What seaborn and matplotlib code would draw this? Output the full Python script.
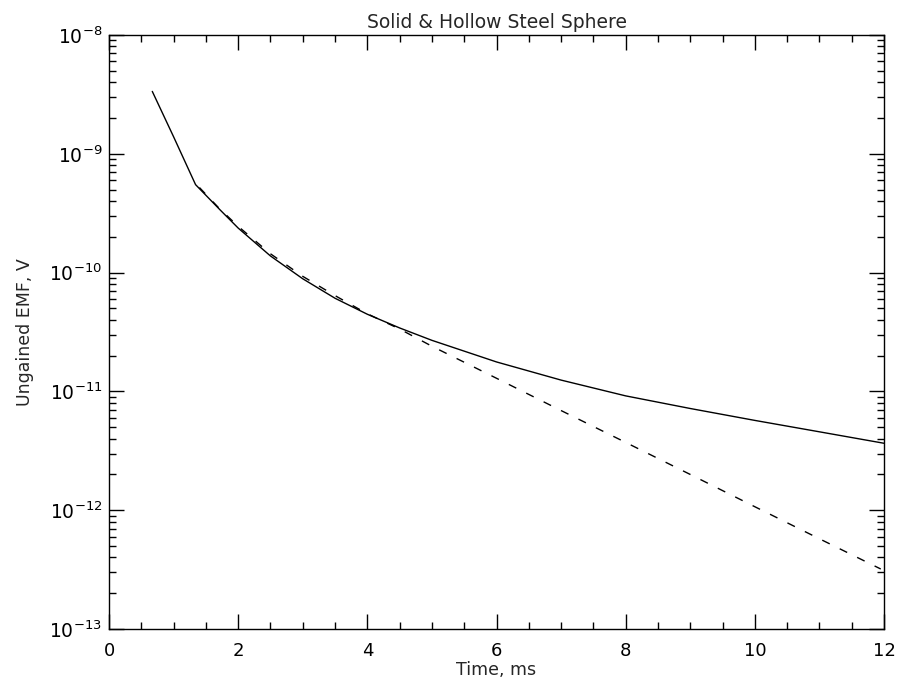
import numpy as np
import pandas as pd
import matplotlib
matplotlib.use("Agg")
import matplotlib.pyplot as plt
import seaborn as sns
from matplotlib.ticker import MultipleLocator, FixedLocator, NullFormatter

# -----------------------------------------------------
# DATA
# -----------------------------------------------------

solid_time = [0.67, 1.0, 1.34, 1.72, 2.0, 2.5, 3.0, 3.5, 4.0, 4.5, 5.0, 6.0, 7.0, 8.0, 9.0, 10.0, 11.0, 12.0]
solid_emf = [3.35e-9, 1.39e-9, 5.5e-10, 3.37e-10, 2.37e-10, 1.38e-10, 8.87e-11, 6.08e-11, 4.46e-11,
             3.42e-11, 2.69e-11, 1.77e-11, 1.245e-11, 9.17e-12, 7.18e-12, 5.7e-12, 4.57e-12, 3.66e-12]

dashed_time = [1.4, 1.7, 2.0, 2.5, 3.0, 3.5, 4.0, 4.5, 5.0, 6.0, 7.0, 8.0, 9.0, 10.0, 11.0, 11.95]
dashed_emf = [5.2e-10, 3.5e-10, 2.45e-10, 1.44e-10, 9.3e-11, 6.4e-11, 4.5e-11, 3.35e-11,
              2.4e-11, 1.29e-11, 6.9e-12, 3.72e-12, 2.0e-12, 1.07e-12, 5.75e-13, 3.2e-13]

x_ticks = [0, 2, 4, 6, 8, 10, 12]
y_ticks = [1e-13, 1e-12, 1e-11, 1e-10, 1e-9, 1e-8]
y_ticklabels = [r"$\mathregular{10^{-13}}$", r"$\mathregular{10^{-12}}$", r"$\mathregular{10^{-11}}$",
                r"$\mathregular{10^{-10}}$", r"$\mathregular{10^{-9}}$", r"$\mathregular{10^{-8}}$"]

# -----------------------------------------------------
# PLOT
# -----------------------------------------------------

sns.set_style("ticks")
plt.rcParams["font.family"] = ["DejaVu Sans"]

fig = plt.figure(figsize=(8.98, 6.79), dpi=100)
ax = fig.add_axes([0.1214, 0.0736, 0.863, 0.8749])

sns.lineplot(x=solid_time, y=solid_emf, ax=ax, color="black", linewidth=1.0)
sns.lineplot(x=dashed_time, y=dashed_emf, ax=ax, color="black", linewidth=1.0,
             linestyle=(0, (6, 8)))

ax.set_yscale("log")
ax.set_xlim(0, 12)
ax.set_ylim(1e-13, 1e-8)

ax.set_xticks(x_ticks)
ax.set_xticklabels([str(t) for t in x_ticks])
ax.xaxis.set_minor_locator(MultipleLocator(0.5))

minor_y = [m * 10.0 ** e for e in range(-13, -8) for m in range(2, 10)]
ax.yaxis.set_major_locator(FixedLocator(y_ticks))
ax.set_yticklabels(y_ticklabels)
ax.yaxis.set_minor_locator(FixedLocator(minor_y))
ax.yaxis.set_minor_formatter(NullFormatter())

ax.tick_params(which="both", direction="in", top=True, right=True, width=1.0, colors="black")
ax.tick_params(which="major", length=10.5)
ax.tick_params(which="minor", length=5)
ax.tick_params(axis="x", which="major", pad=9, labelsize=13)
ax.tick_params(axis="y", which="major", pad=5, labelsize=13.5)

for sp in ax.spines.values():
    sp.set_visible(True)
    sp.set_linewidth(1.0)
    sp.set_color("black")

ax.set_title("Solid & Hollow Steel Sphere", fontsize=13.5, pad=5)
ax.set_xlabel("Time, ms", fontsize=12.5, labelpad=1)
ax.set_ylabel("Ungained EMF, V", fontsize=12.5, labelpad=11)

fig.savefig("out.png", dpi=100)
